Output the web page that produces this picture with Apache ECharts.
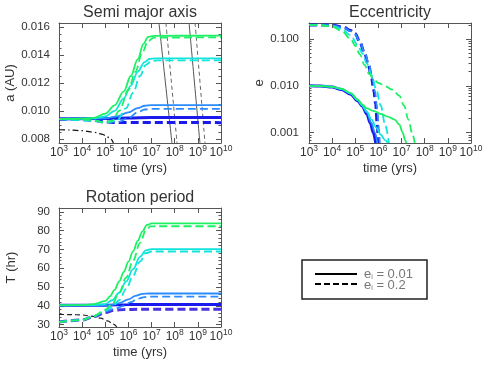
<!DOCTYPE html>
<html>
<head>
<meta charset="utf-8">
<script src="https://cdn.jsdelivr.net/npm/echarts@6/dist/echarts.min.js"></script>
<style>
html, body { margin: 0; padding: 0; background: #fff; }
#chart { width: 490px; height: 365px; }
</style>
</head>
<body>
<div id="chart"></div>
<script>
var FONT = 'Liberation Sans, Arial, sans-serif';
var AXIS_COLOR = '#555';
var TEXT_COLOR = '#333';

// tick values
var decades = [1e3, 1e4, 1e5, 1e6, 1e7, 1e8, 1e9, 1e10];
var aTicks = [0.008, 0.010, 0.012, 0.014, 0.016];
var aMinor = [0.0085, 0.009, 0.0095, 0.0105, 0.011, 0.0115, 0.0125, 0.013, 0.0135, 0.0145, 0.015, 0.0155];
var eTicks = [0.001, 0.01, 0.1];
var eMinor = [0.0007, 0.0008, 0.0009, 0.002, 0.003, 0.004, 0.005, 0.006, 0.007, 0.008, 0.009,
              0.02, 0.03, 0.04, 0.05, 0.06, 0.07, 0.08, 0.09, 0.2];
var tTicks = [30, 40, 50, 60, 70, 80, 90];
var tMinor = [32, 34, 36, 38, 42, 44, 46, 48, 52, 54, 56, 58, 62, 64, 66, 68, 72, 74, 76, 78, 82, 84, 86, 88];

// curves: [log10(time / yrs), value]
// semi major axis (AU)
var aDarkSolid = [[3, 0.00942], [5, 0.00945], [6, 0.0095], [7, 0.00953], [10, 0.00953]];
var aDarkDash = [[3, 0.00942], [4, 0.0094], [4.5, 0.00932], [5, 0.00921], [5.5, 0.00917], [10, 0.00916]];
var aBlueSolid = [[3, 0.00942], [5, 0.00946], [5.5, 0.0096], [6, 0.0099], [6.4, 0.0102], [6.7, 0.01037], [7, 0.01042], [10, 0.01042]];
var aBlueDash = [[3, 0.00942], [4.5, 0.0093], [5, 0.0092], [5.6, 0.00922], [6, 0.0095], [6.4, 0.0099], [6.7, 0.0101], [7, 0.01014], [10, 0.01014]];
var aCyanSolid = [[3, 0.00942], [4.5, 0.00946], [5, 0.0096], [5.4, 0.0100], [5.8, 0.0109], [6.1, 0.0118], [6.4, 0.0128], [6.7, 0.0135], [6.9, 0.01372], [7.2, 0.01377], [10, 0.01377]];
var aCyanDash = [[3, 0.00942], [4.5, 0.0093], [5, 0.00915], [5.5, 0.0093], [5.9, 0.0102], [6.2, 0.0113], [6.5, 0.0125], [6.75, 0.0133], [7, 0.01358], [7.3, 0.01362], [10, 0.01363]];
var aGreenSolid = [[3, 0.00942], [4, 0.00944], [4.5, 0.0095], [5, 0.0098], [5.4, 0.0104], [5.8, 0.0114], [6.1, 0.0125], [6.4, 0.0137], [6.65, 0.0148], [6.85, 0.0153], [7.1, 0.01538], [10, 0.0154]];
var aGreenDash = [[3, 0.00942], [4, 0.0094], [4.5, 0.0093], [5, 0.00918], [5.3, 0.0093], [5.6, 0.0100], [6, 0.0115], [6.3, 0.0128], [6.6, 0.0142], [6.85, 0.015], [7.1, 0.01525], [10, 0.01528]];
var aStar = [[3, 0.00865], [3.5, 0.00863], [4, 0.00858], [4.5, 0.00848], [4.8, 0.00836], [5, 0.00825], [5.2, 0.00805], [5.35, 0.0077]];
var aGraySolid1 = [[7.32, 0.0163], [7.88, 0.0077]];
var aGrayDash1 = [[7.62, 0.0163], [8.10, 0.0077]];
var aGraySolid2 = [[8.62, 0.0163], [9.09, 0.0077]];
var aGrayDash2 = [[8.88, 0.0163], [9.31, 0.0077]];

// eccentricity
var eDarkSolid = [[3, 0.01], [3.5, 0.0099], [4, 0.0094], [4.4, 0.0083], [4.8, 0.0066], [5.1, 0.0048], [5.3, 0.0037], [5.5, 0.0025], [5.65, 0.0016], [5.78, 0.001], [5.88, 0.0006]];
var eBlueSolid = [[3, 0.01], [3.5, 0.0099], [4, 0.0095], [4.4, 0.0085], [4.8, 0.0068], [5.1, 0.005], [5.3, 0.0038], [5.5, 0.0027], [5.7, 0.0016], [5.85, 0.001], [5.95, 0.0006]];
var eCyanSolid = [[3, 0.01], [3.5, 0.0099], [4, 0.0095], [4.4, 0.0086], [4.8, 0.0069], [5.1, 0.005], [5.3, 0.0038], [5.5, 0.0028], [5.7, 0.0019], [5.9, 0.0013], [6.1, 0.0009], [6.3, 0.00068], [6.4, 0.0006]];
var eGreenSolid = [[3, 0.01], [3.5, 0.0099], [4, 0.0095], [4.4, 0.0087], [4.8, 0.007], [5.1, 0.0051], [5.3, 0.004], [5.5, 0.0033], [5.8, 0.0029], [6.1, 0.0025], [6.4, 0.0022], [6.7, 0.0019], [6.9, 0.0015], [7.05, 0.001], [7.15, 0.0007], [7.2, 0.0006]];
var eDarkDash = [[3, 0.2], [3.5, 0.2], [4, 0.197], [4.5, 0.178], [4.8, 0.152], [5, 0.13], [5.2, 0.085], [5.4, 0.05], [5.55, 0.03], [5.7, 0.015], [5.8, 0.008], [5.88, 0.0042], [5.95, 0.0015], [5.99, 0.0006]];
var eBlueDash = [[3, 0.2], [3.5, 0.2], [4, 0.196], [4.5, 0.175], [4.8, 0.148], [5, 0.125], [5.2, 0.085], [5.4, 0.052], [5.6, 0.028], [5.75, 0.014], [5.85, 0.0075], [5.95, 0.0032], [6.02, 0.0012], [6.06, 0.0006]];
var eCyanDash = [[3, 0.2], [3.5, 0.198], [4, 0.19], [4.4, 0.165], [4.8, 0.12], [5.1, 0.075], [5.3, 0.05], [5.5, 0.03], [5.7, 0.017], [5.9, 0.0085], [6.1, 0.0038], [6.3, 0.0014], [6.45, 0.0006]];
var eGreenDash = [[3, 0.2], [3.5, 0.197], [4, 0.185], [4.4, 0.15], [4.8, 0.1], [5, 0.072], [5.2, 0.047], [5.4, 0.028], [5.6, 0.018], [5.8, 0.0135], [6, 0.0115], [6.3, 0.0098], [6.6, 0.0083], [6.9, 0.0062], [7.1, 0.0038], [7.3, 0.0019], [7.45, 0.001], [7.57, 0.0006]];

// rotation period (hr)
var tDarkSolid = [[3, 40.3], [5, 40.4], [6, 40.7], [7, 40.8], [10, 40.8]];
var tDarkDash = [[3, 31.5], [4, 32.5], [4.5, 34.3], [5, 36.5], [5.4, 37.7], [5.8, 38.1], [6.5, 38.2], [10, 38.2]];
var tBlueSolid = [[3, 40.3], [5, 40.3], [5.3, 40.6], [5.6, 41.5], [6, 43.5], [6.3, 45.3], [6.6, 46.4], [6.9, 46.6], [10, 46.6]];
var tBlueDash = [[3, 31.5], [4, 32.5], [4.5, 34.5], [5, 37], [5.4, 38.5], [5.8, 40], [6.1, 42], [6.4, 43.8], [6.7, 44.7], [7, 44.9], [10, 44.9]];
var tCyanSolid = [[3, 40.3], [4.5, 40.4], [5, 41], [5.3, 43], [5.6, 47], [5.9, 53], [6.2, 59.5], [6.5, 66], [6.75, 69.5], [7, 70.2], [10, 70.2]];
var tCyanDash = [[3, 31.5], [4, 32.5], [4.5, 34.5], [5, 37.5], [5.3, 39.5], [5.6, 43], [5.9, 49], [6.2, 56], [6.5, 63.5], [6.75, 68], [7, 68.9], [10, 68.9]];
var tGreenSolid = [[3, 40.3], [4, 40.4], [4.5, 41], [5, 42.5], [5.2, 45], [5.4, 48.5], [5.6, 53], [5.8, 58], [6, 63.5], [6.2, 69], [6.4, 74.5], [6.6, 79.5], [6.8, 83], [7, 83.8], [10, 83.8]];
var tGreenDash = [[3, 31.5], [4, 32.5], [4.5, 34.5], [5, 38], [5.3, 41], [5.6, 47], [5.9, 55], [6.2, 64], [6.5, 73.5], [6.75, 80], [6.95, 82.2], [7.2, 82.3], [10, 82.3]];
var tStar = [[3, 35.5], [3.5, 35.4], [4, 35.2], [4.4, 34.6], [4.8, 33.5], [5.1, 32], [5.35, 30.3], [5.5, 28.8]];

var colDark = '#1a1aee';
var colDarkT = '#4a30e4';
var colBlue = '#2a8cff';
var colCyan = '#10e4dc';
var colGreen = '#1ef064';
var DASH = [8, 4];

function pts(list) {
    return list.map(function (p) { return [Math.pow(10, p[0]), p[1]]; });
}

function curve(list, color, width, dash, g) {
    return {
        type: 'line',
        xAxisIndex: g * 2,
        yAxisIndex: g * 4,
        data: pts(list),
        symbol: 'none',
        smooth: 0.35,
        smoothMonotone: 'x',
        clip: true,
        silent: true,
        lineStyle: { color: color, width: width, type: dash || 'solid' }
    };
}

function xAxes(g) {
    var common = {
        type: 'log', logBase: 10, gridIndex: g, min: 1e3, max: 1e10,
        axisLine: { show: true, onZero: false, lineStyle: { color: AXIS_COLOR, width: 1 } },
        axisTick: { inside: true, length: 5, customValues: decades, lineStyle: { color: AXIS_COLOR } },
        splitLine: { show: false }
    };
    var bottom = Object.assign({}, common, {
        position: 'bottom',
        name: 'time (yrs)', nameLocation: 'middle', nameGap: 19,
        nameTextStyle: { fontSize: 13, color: TEXT_COLOR, fontFamily: FONT },
        axisLabel: {
            customValues: decades, margin: 1, hideOverlap: false,
            formatter: function (v) { return '{b|10}{s|' + Math.round(Math.log10(v)) + '}'; },
            rich: {
                b: { fontSize: 12, lineHeight: 18, color: TEXT_COLOR, fontFamily: FONT },
                s: { fontSize: 8.5, lineHeight: 10, verticalAlign: 'top', color: TEXT_COLOR, fontFamily: FONT }
            }
        }
    });
    var top = Object.assign({}, common, { position: 'top', axisLabel: { show: false } });
    return [bottom, top];
}

function yAxes(g, type, min, max, ticks, minor, fmt, name, gap, margin) {
    var list = [];
    ['left', 'right'].forEach(function (side) {
        var major = {
            type: type, gridIndex: g, min: min, max: max, position: side,
            axisLine: { show: true, onZero: false, lineStyle: { color: AXIS_COLOR, width: 1 } },
            axisTick: { inside: true, length: 5, customValues: ticks, lineStyle: { color: AXIS_COLOR } },
            splitLine: { show: false },
            axisLabel: { show: false }
        };
        if (type == 'log') major.logBase = 10;
        if (side == 'left') {
            major.axisLabel = {
                customValues: ticks, formatter: fmt, margin: margin, hideOverlap: false,
                fontSize: 11.5, color: TEXT_COLOR, fontFamily: FONT
            };
            major.name = name;
            major.nameLocation = 'middle';
            major.nameGap = gap;
            major.nameTextStyle = { fontSize: 13, color: TEXT_COLOR, fontFamily: FONT };
        }
        var small = {
            type: type, gridIndex: g, min: min, max: max, position: side,
            axisLine: { show: false },
            axisTick: { inside: true, length: 2.5, customValues: minor, lineStyle: { color: AXIS_COLOR } },
            axisLabel: { show: false },
            splitLine: { show: false }
        };
        if (type == 'log') small.logBase = 10;
        list.push(major, small);
    });
    return list;
}

function fmt3(v) { return v.toFixed(3); }
function fmt0(v) { return String(Math.round(v)); }

var myChart = echarts.init(document.getElementById('chart'));

var option = {
    animation: false,
    backgroundColor: '#fff',
    grid: [
        { left: 59, top: 23, width: 162, height: 120, outerBoundsMode: 'none' },
        { left: 309, top: 23, width: 162, height: 120, outerBoundsMode: 'none' },
        { left: 59, top: 208, width: 162, height: 119, outerBoundsMode: 'none' }
    ],
    xAxis: [].concat(xAxes(0), xAxes(1), xAxes(2)),
    yAxis: [].concat(
        yAxes(0, 'value', 0.0077, 0.0163, aTicks, aMinor, fmt3, 'a (AU)', 41, 9),
        yAxes(1, 'log', 0.0006, 0.22, eTicks, eMinor, fmt3, 'e', 40, 10),
        yAxes(2, 'value', 28.8, 92, tTicks, tMinor, fmt0, 'T (hr)', 41, 9)
    ),
    series: [
        // semi major axis
        curve(aGraySolid1, '#555', 1, 'solid', 0),
        curve(aGrayDash1, '#666', 1, [4, 3], 0),
        curve(aGraySolid2, '#555', 1, 'solid', 0),
        curve(aGrayDash2, '#666', 1, [4, 3], 0),
        curve(aStar, '#111', 1.2, [6, 3, 1.5, 3], 0),
        curve(aDarkSolid, colDark, 3, 'solid', 0),
        curve(aDarkDash, colDark, 3, DASH, 0),
        curve(aBlueSolid, colBlue, 1.8, 'solid', 0),
        curve(aBlueDash, colBlue, 1.8, DASH, 0),
        curve(aCyanSolid, colCyan, 1.8, 'solid', 0),
        curve(aCyanDash, colCyan, 1.8, DASH, 0),
        curve(aGreenSolid, colGreen, 1.8, 'solid', 0),
        curve(aGreenDash, colGreen, 1.8, DASH, 0),
        // eccentricity
        curve(eDarkSolid, colDark, 3, 'solid', 1),
        curve(eDarkDash, colDark, 3, DASH, 1),
        curve(eBlueSolid, colBlue, 1.8, 'solid', 1),
        curve(eBlueDash, colBlue, 1.8, DASH, 1),
        curve(eCyanSolid, colCyan, 1.8, 'solid', 1),
        curve(eCyanDash, colCyan, 1.8, DASH, 1),
        curve(eGreenSolid, colGreen, 1.8, 'solid', 1),
        curve(eGreenDash, colGreen, 1.8, DASH, 1),
        // rotation period
        curve(tStar, '#222', 1.2, [5, 3], 2),
        curve(tDarkSolid, colDark, 3, 'solid', 2),
        curve(tDarkDash, colDarkT, 3, DASH, 2),
        curve(tBlueSolid, colBlue, 1.8, 'solid', 2),
        curve(tBlueDash, colBlue, 1.8, DASH, 2),
        curve(tCyanSolid, colCyan, 1.8, 'solid', 2),
        curve(tCyanDash, colCyan, 1.8, DASH, 2),
        curve(tGreenSolid, colGreen, 1.8, 'solid', 2),
        curve(tGreenDash, colGreen, 1.8, DASH, 2)
    ],
    graphic: [
        { type: 'text', x: 140, y: 13, style: { text: 'Semi major axis', fontSize: 16, fontFamily: FONT, fill: TEXT_COLOR, align: 'center', verticalAlign: 'middle' } },
        { type: 'text', x: 390, y: 13, style: { text: 'Eccentricity', fontSize: 16, fontFamily: FONT, fill: TEXT_COLOR, align: 'center', verticalAlign: 'middle' } },
        { type: 'text', x: 140, y: 198, style: { text: 'Rotation period', fontSize: 16, fontFamily: FONT, fill: TEXT_COLOR, align: 'center', verticalAlign: 'middle' } },
        // legend box
        { type: 'rect', shape: { x: 302, y: 260, width: 125, height: 39 }, style: { fill: 'none', stroke: '#222', lineWidth: 1.5 } },
        { type: 'line', shape: { x1: 315, y1: 274, x2: 357, y2: 274 }, style: { stroke: '#000', lineWidth: 2 } },
        { type: 'line', shape: { x1: 315, y1: 284, x2: 357, y2: 284 }, style: { stroke: '#000', lineWidth: 2, lineDash: [6, 3] } },
        {
            type: 'text', x: 364, y: 274,
            style: {
                text: '{b|e}{s|i}{b| = 0.01}', verticalAlign: 'middle', fill: '#777',
                rich: {
                    b: { fontSize: 13, lineHeight: 14, fontFamily: FONT, fill: '#777' },
                    s: { fontSize: 7, lineHeight: 7, verticalAlign: 'bottom', fontFamily: FONT, fill: '#777' }
                }
            }
        },
        {
            type: 'text', x: 364, y: 285,
            style: {
                text: '{b|e}{s|i}{b| = 0.2}', verticalAlign: 'middle', fill: '#777',
                rich: {
                    b: { fontSize: 13, lineHeight: 14, fontFamily: FONT, fill: '#777' },
                    s: { fontSize: 7, lineHeight: 7, verticalAlign: 'bottom', fontFamily: FONT, fill: '#777' }
                }
            }
        }
    ]
};

myChart.setOption(option, true);
</script>
</body>
</html>
